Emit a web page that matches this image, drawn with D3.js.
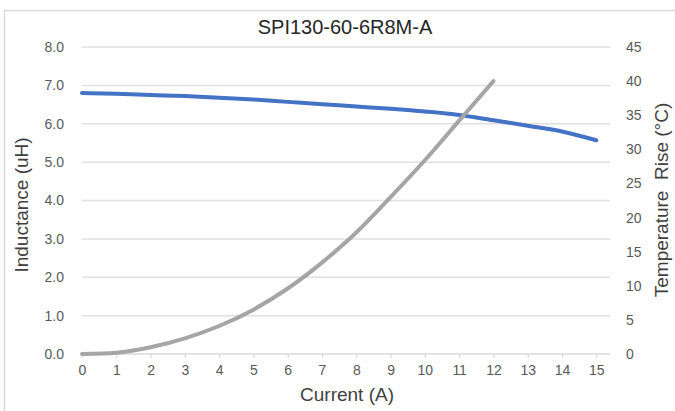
<!DOCTYPE html>
<html><head><meta charset="utf-8">
<script src="https://cdn.jsdelivr.net/npm/d3@7"></script>
<style>
html,body{margin:0;padding:0;background:#fff;}
svg{display:block;font-family:"Liberation Sans",Arial,sans-serif;}
</style></head>
<body><svg id="c" width="675" height="411"></svg>
<script>
const title = "SPI130-60-6R8M-A";
const currentA = [0,1,2,3,4,5,6,7,8,9,10,11,12,13,14,15];
const inductance = [6.80,6.78,6.75,6.72,6.68,6.63,6.57,6.51,6.45,6.39,6.32,6.23,6.09,5.95,5.80,5.57];
const tempCurrent = [0,1,2,3,4,5,6,7,8,9,10,11,12];
const tempRise = [0,0.2,1.0,2.3,4.1,6.5,9.6,13.4,17.8,23.0,28.4,34.2,40.0];
const xTicks = d3.range(0,16,1);
const leftTicks = [0,1,2,3,4,5,6,7,8];
const rightTicks = [0,5,10,15,20,25,30,35,40,45];

const svg = d3.select("#c");
const L = 82, R = 610, T = 47, B = 354;
const x = d3.scaleLinear().domain([0,15.4]).range([L,R]);
const yL = d3.scaleLinear().domain([0,8]).range([B,T]);
const yR = d3.scaleLinear().domain([0,45]).range([B,T]);

// chart border
svg.append("path").attr("d","M4.5,420 V10.5 H690").attr("fill","none").attr("stroke","#d9d9d9").attr("stroke-width",1.5);

// gridlines
svg.append("g").selectAll("line").data(leftTicks.slice(1)).join("line")
  .attr("x1",L).attr("x2",R).attr("y1",d=>yL(d)).attr("y2",d=>yL(d))
  .attr("stroke","#e0e0e0").attr("stroke-width",1.5);

// x axis
const xa = svg.append("g").attr("transform",`translate(0,${B})`)
  .call(d3.axisBottom(x).tickValues(xTicks).tickSize(4).tickPadding(7).tickFormat(d3.format("d")));
xa.select(".domain").attr("stroke","#d9d9d9").attr("stroke-width",1.5).attr("d",`M${L},0H${R}`);
xa.selectAll(".tick line").attr("stroke","#d9d9d9").attr("stroke-width",1.2);
xa.selectAll("text").attr("fill","#595959").style("font-size","14px");

// left axis
const ya = svg.append("g").attr("transform",`translate(${L},0)`)
  .call(d3.axisLeft(yL).tickValues(leftTicks).tickSize(0).tickPadding(18).tickFormat(d3.format(".1f")));
ya.select(".domain").remove();
ya.selectAll("text").attr("fill","#595959").style("font-size","14px");

// right axis
const yra = svg.append("g").attr("transform",`translate(${R},0)`)
  .call(d3.axisRight(yR).tickValues(rightTicks).tickSize(0).tickPadding(16).tickFormat(d3.format("d")));
yra.select(".domain").remove();
yra.selectAll("text").attr("fill","#595959").style("font-size","14px");

// lines
const lineL = d3.line().x((d,i)=>x(currentA[i])).y(d=>yL(d)).curve(d3.curveMonotoneX);
const lineR = d3.line().x((d,i)=>x(tempCurrent[i])).y(d=>yR(d)).curve(d3.curveMonotoneX);
svg.append("path").datum(inductance).attr("d",lineL).attr("fill","none")
  .attr("stroke","#4472c4").attr("stroke-width",4).attr("stroke-linecap","round");
svg.append("path").datum(tempRise).attr("d",lineR).attr("fill","none")
  .attr("stroke","#a5a5a5").attr("stroke-width",4).attr("stroke-linecap","round");

// titles
svg.append("text").attr("x",345).attr("y",34).attr("text-anchor","middle")
  .style("font-size","20px").attr("fill","#262626").text(title);
svg.append("text").attr("x",347).attr("y",401).attr("text-anchor","middle")
  .style("font-size","19px").attr("fill","#404040").text("Current (A)");
svg.append("text").attr("transform","translate(28,205) rotate(-90)").attr("text-anchor","middle")
  .style("font-size","19px").attr("fill","#404040").text("Inductance (uH)");
svg.append("text").attr("transform","translate(668,200) rotate(-90)").attr("text-anchor","middle")
  .style("font-size","19px").attr("fill","#404040").style("white-space","pre").text("Temperature  Rise (°C)");
</script></body></html>
